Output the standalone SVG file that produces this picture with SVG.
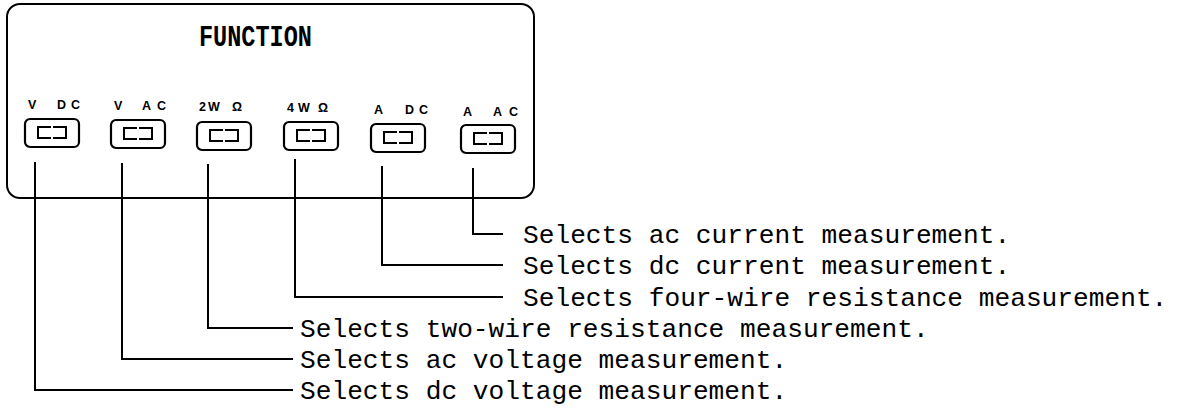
<svg xmlns="http://www.w3.org/2000/svg" width="1180" height="411" viewBox="0 0 1180 411">
<style>
.ln{fill:none;stroke:#000;stroke-width:2;stroke-linecap:square}
.lbl{font-family:"Liberation Sans",Arial,sans-serif;font-weight:bold;font-size:12.5px;fill:#000}
.desc{font-family:"Liberation Mono","Courier New",monospace;font-size:26.2px;fill:#000}
.title{font-family:"Liberation Mono","Courier New",monospace;font-weight:bold;font-size:29px;fill:#000}
.btn{fill:none;stroke:#000;stroke-width:2.2}
.in{fill:none;stroke:#000;stroke-width:2}
</style>
<defs>
<g id="button">
<rect class="btn" x="0" y="0" width="54" height="28" rx="5"/>
<path class="in" d="M26 8H13V19H26M28 8H41V19H28"/>
</g>
</defs>
<g id="panel">
<rect x="7" y="4" width="527" height="194" rx="13" fill="none" stroke="#000" stroke-width="2"/>
<text class="title" x="199" y="46" textLength="113" lengthAdjust="spacingAndGlyphs">FUNCTION</text>
</g>
<g id="btn-vdc">
<text class="lbl" x="28 45 57 71" y="109">V DC</text>
<use href="#button" x="25" y="119"/>
</g>
<g id="btn-vac">
<text class="lbl" x="114 130 142 157" y="110">V AC</text>
<use href="#button" x="111" y="120"/>
</g>
<g id="btn-2w">
<text class="lbl" x="199 208 232" y="111">2WΩ</text>
<use href="#button" x="197" y="122"/>
</g>
<g id="btn-4w">
<text class="lbl" x="287 298 318" y="112">4WΩ</text>
<use href="#button" x="284" y="122"/>
</g>
<g id="btn-adc">
<text class="lbl" x="374 390 405 419" y="114">A DC</text>
<use href="#button" x="371" y="124"/>
</g>
<g id="btn-aac">
<text class="lbl" x="463 480 493 509" y="116">A AC</text>
<use href="#button" x="461" y="125"/>
</g>
<g id="connectors">
<path class="ln" d="M35 163V390H292"/>
<path class="ln" d="M122 164V359H292"/>
<path class="ln" d="M208 165V328H292"/>
<path class="ln" d="M295 160V297H502"/>
<path class="ln" d="M382 167V265H502"/>
<path class="ln" d="M473 169V234H502"/>
</g>
<g id="descriptions">
<text class="desc" x="523" y="243">Selects ac current measurement.</text>
<text class="desc" x="523" y="274">Selects dc current measurement.</text>
<text class="desc" x="523" y="306">Selects four-wire resistance measurement.</text>
<text class="desc" x="300" y="337">Selects two-wire resistance measurement.</text>
<text class="desc" x="300" y="368">Selects ac voltage measurement.</text>
<text class="desc" x="300" y="399">Selects dc voltage measurement.</text>
</g>
</svg>
